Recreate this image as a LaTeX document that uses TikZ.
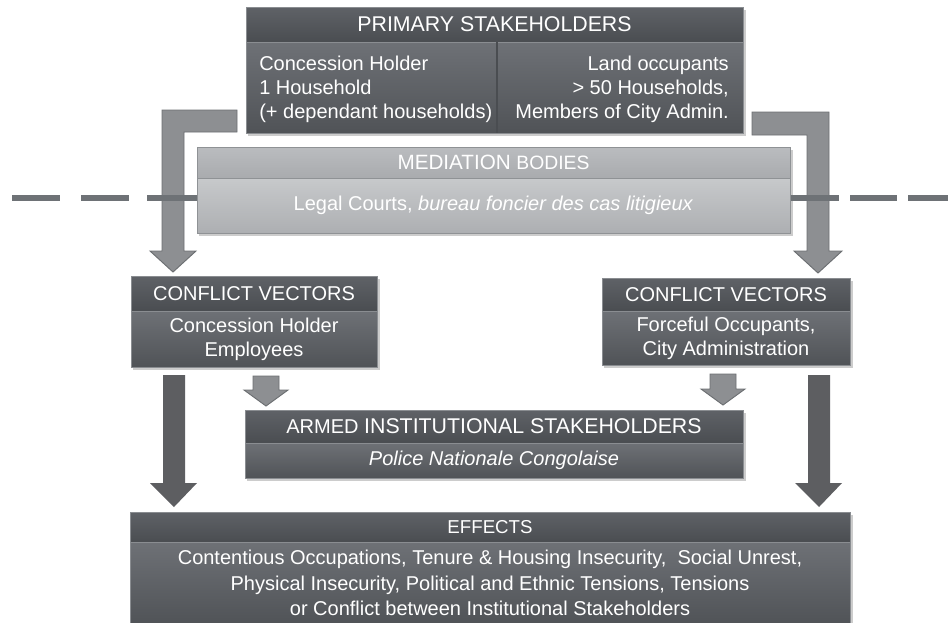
\documentclass[tikz,border=0pt]{standalone}
\usepackage{fontspec}
\setmainfont{Liberation Sans}
\definecolor{hdTop}{HTML}{5F6267}
\definecolor{hdBot}{HTML}{4A4D51}
\definecolor{bdTop}{HTML}{6E7176}
\definecolor{bdBot}{HTML}{505357}
\definecolor{bdr}{HTML}{8A8D91}
\definecolor{lhTop}{HTML}{BABCBF}
\definecolor{lhBot}{HTML}{A9ABAE}
\definecolor{lbTop}{HTML}{C7C9CB}
\definecolor{lbBot}{HTML}{ADAFB2}
\definecolor{lbdr}{HTML}{8F9295}
\definecolor{arrGrey}{HTML}{8D8F92}
\definecolor{arrEdge}{HTML}{6C6F72}
\definecolor{arrDark}{HTML}{5D5E61}
\definecolor{sepCol}{HTML}{6E7276}
\newcommand{\boxnode}[7]{\node[#6, anchor=north west, minimum width={(#4-(#2))*0.75pt}, minimum height={(#5-(#3))*0.75pt}] (#1) at (#2,#3) {#7};}
\newcommand{\shadowrect}[4]{\fill[black, opacity=0.2] ({#1+1.5},{#2+3}) rectangle ({#3+2.5},{#4+3});}
\begin{document}
\begin{tikzpicture}[x=0.75pt, y=-0.75pt,
  base/.style={inner sep=0pt, outer sep=0pt, line width=0.6pt, text=white, align=center, font=\fontsize{15}{18}\selectfont},
  dhead/.style={base, top color=hdTop, bottom color=hdBot, draw=bdr},
  dbody/.style={base, top color=bdTop, bottom color=bdBot, draw=bdr},
  lhead/.style={base, top color=lhTop, bottom color=lhBot, draw=lbdr},
  lbody/.style={base, top color=lbTop, bottom color=lbBot, draw=lbdr},
  txt/.style={inner sep=0pt, text=white, font=\fontsize{15}{18}\selectfont},
  blockarrow/.style={fill=arrGrey, draw=arrEdge, line width=0.7pt, line join=miter},
  darkarrow/.style={fill=arrDark, draw=none},
  sepline/.style={draw=sepCol, line width=3.8pt}
]
\useasboundingbox (0,0) rectangle (948,622);
\fill[white] (0,0) rectangle (948,622);

% shadows
\shadowrect{246}{7}{743}{133}
\shadowrect{197}{147}{790}{233}
\shadowrect{131}{276}{377}{367}
\shadowrect{602}{278}{850}{365}
\shadowrect{245}{410}{743}{478}
\shadowrect{130}{512}{850}{624}

% bent arrows from primary stakeholders
\path[blockarrow] (162,110) -- (237,110) -- (237,132) -- (184,132) -- (184,251) -- (196,251) -- (173,272) -- (150,251) -- (162,251) -- cycle;
\path[blockarrow] (752,112) -- (829,112) -- (829,251) -- (842,251) -- (818,273) -- (794,251) -- (807,251) -- (807,135) -- (752,135) -- cycle;

% dashed separation line
\draw[sepline] (12,198) -- (60,198);
\draw[sepline] (81,198) -- (129,198);
\draw[sepline] (147,198) -- (197,198);
\draw[sepline] (790,198) -- (839,198);
\draw[sepline] (850,198) -- (897,198);
\draw[sepline] (908,198) -- (948,198);

% PRIMARY STAKEHOLDERS
\boxnode{psh}{246}{7}{743}{42}{dhead, font=\fontsize{16}{19}\selectfont}{PRIMARY STAKEHOLDERS}
\boxnode{psb}{246}{42}{743}{133}{dbody}{}
\draw[color=hdBot, line width=0.8pt] (497,42) -- (497,133);
\node[txt, anchor=west, align=left, font=\fontsize{15}{18}\selectfont] (psl) at (259,89) {Concession Holder\\1 Household\\(+ dependant households)};
\node[txt, anchor=east, align=right, font=\fontsize{15}{18}\selectfont] (psr) at (729,89) {Land occupants\\> 50 Households,\\Members of City Admin.};

% MEDIATION BODIES
\boxnode{mbh}{197}{147}{790}{178}{lhead}{{\fontsize{15.5}{18}\selectfont MEDIATION} {\fontsize{14.5}{18}\selectfont BODIES}}
\boxnode{mbb}{197}{178}{790}{233}{lbody}{Legal Courts, \textit{bureau foncier des cas litigieux}}

% CONFLICT VECTORS left
\boxnode{cvlh}{131}{276}{377}{311}{dhead}{CONFLICT VECTORS}
\boxnode{cvlb}{131}{311}{377}{367}{dbody}{Concession Holder\\Employees}

% CONFLICT VECTORS right
\boxnode{cvrh}{602}{278}{850}{311}{dhead}{CONFLICT VECTORS}
\boxnode{cvrb}{602}{311}{850}{365}{dbody}{Forceful Occupants,\\City Administration}

% small arrows
\path[blockarrow] (253,376) -- (279,376) -- (279,390) -- (288,390) -- (266,406) -- (244,390) -- (253,390) -- cycle;
\path[blockarrow] (710,374) -- (736,374) -- (736,389) -- (745,389) -- (723,405) -- (701,389) -- (710,389) -- cycle;

% ARMED INSTITUTIONAL STAKEHOLDERS
\boxnode{aish}{245}{410}{743}{443}{dhead}{{\fontsize{15}{18}\selectfont ARMED} {\fontsize{16}{18}\selectfont INSTITUTIONAL STAKEHOLDERS}}
\boxnode{aisb}{245}{443}{743}{478}{dbody}{\textit{Police Nationale Congolaise}}

% big dark arrows
\path[darkarrow] (163,375) -- (185,375) -- (185,483) -- (197,483) -- (174,507) -- (150,483) -- (163,483) -- cycle;
\path[darkarrow] (808,375) -- (830,375) -- (830,483) -- (842,483) -- (819,507) -- (795,483) -- (808,483) -- cycle;

% EFFECTS
\boxnode{efh}{130}{512}{850}{542}{dhead, font=\fontsize{14}{16}\selectfont}{EFFECTS}
\boxnode{efb}{130}{542}{850}{624}{dbody, font=\fontsize{15}{19}\selectfont}{Contentious Occupations, Tenure \& Housing Insecurity,\ \ Social Unrest,\\Physical Insecurity, Political and Ethnic Tensions, Tensions\\or Conflict between Institutional Stakeholders}
\end{tikzpicture}
\end{document}
